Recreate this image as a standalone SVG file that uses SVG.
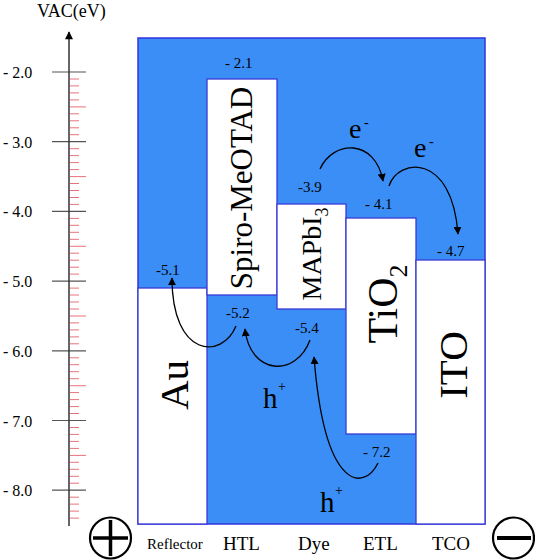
<svg xmlns="http://www.w3.org/2000/svg" width="535" height="560" viewBox="0 0 535 560" font-family="'Liberation Serif', 'Times New Roman', 'DejaVu Serif', serif">
<style>
text, tspan { font-family: 'Liberation Serif', 'Times New Roman', 'DejaVu Serif', serif; fill: #000; }
.lv{font-size:15px}
.ax{font-size:16px}
.big{font-size:41px}
.bot{font-size:19px}
.layer{fill:#fff;stroke:#3a3ad8;stroke-width:1.3}
.arr{fill:none;stroke:#000;stroke-width:1.3;marker-end:url(#ah)}
</style>
<defs>
<marker id="ah" viewBox="0 0 10 10" refX="9" refY="5" markerWidth="8" markerHeight="8" markerUnits="userSpaceOnUse" orient="auto">
<path d="M0,0 L10,5 L0,10 z" fill="#000"/>
</marker>
<marker id="axh" viewBox="0 0 10 10" refX="9" refY="5" markerWidth="9" markerHeight="8" markerUnits="userSpaceOnUse" orient="auto">
<path d="M0,0 L10,5 L0,10 z" fill="#000"/>
</marker>
</defs>
<rect width="535" height="560" fill="#fff"/>

<g id="axis">
<text x="37" y="17" style="font-size:18px">VAC(eV)</text>
<path d="M70 79h9M70 85.9h9M70 92.9h9M70 99.9h9M70 113.8h9M70 120.8h9M70 127.8h9M70 134.7h9M70 148.7h9M70 155.6h9M70 162.6h9M70 169.6h9M70 183.5h9M70 190.5h9M70 197.5h9M70 204.4h9M70 218.4h9M70 225.3h9M70 232.3h9M70 239.3h9M70 253.2h9M70 260.2h9M70 267.2h9M70 274.1h9M70 288.1h9M70 295h9M70 302h9M70 309h9M70 322.9h9M70 329.9h9M70 336.9h9M70 343.8h9M70 357.8h9M70 364.7h9M70 371.7h9M70 378.7h9M70 392.6h9M70 399.6h9M70 406.6h9M70 413.5h9M70 427.5h9M70 434.4h9M70 441.4h9M70 448.4h9M70 462.3h9M70 469.3h9M70 476.3h9M70 483.2h9M70 497.2h9M70 504.1h9M70 511.1h9M70 518.1h9M70 106.9h16M70 176.6h16M70 246.3h16M70 316h16M70 385.7h16M70 455.4h16" stroke="#e8727a" stroke-width="1"/>
<path d="M52 72h34M52 141.7h34M52 211.4h34M52 281.1h34M52 350.8h34M52 420.5h34M52 490.2h34" stroke="#555" stroke-width="1.2"/>
<line x1="69" y1="526" x2="69" y2="32" stroke="#333" stroke-width="1.5" marker-end="url(#axh)"/>
<text class="ax" x="3" y="78">- 2.0</text>
<text class="ax" x="3" y="147.7">- 3.0</text>
<text class="ax" x="3" y="217.4">- 4.0</text>
<text class="ax" x="3" y="287.1">- 5.0</text>
<text class="ax" x="3" y="356.8">- 6.0</text>
<text class="ax" x="3" y="426.5">- 7.0</text>
<text class="ax" x="3" y="496.2">- 8.0</text>
</g>

<g id="background">
<rect x="138" y="38" width="347" height="486" fill="#3a8ef5" stroke="#3333dd" stroke-width="1.5"/>
</g>

<g id="reflector-au">
<rect class="layer" x="138" y="288" width="69" height="236"/>
<text class="big" transform="translate(188,385) rotate(-90)" text-anchor="middle">Au</text>
<text class="lv" x="156" y="275">-5.1</text>
<text x="147" y="549" style="font-size:15px">Reflector</text>
</g>

<g id="htl-spiro">
<rect class="layer" x="207" y="79" width="70" height="216"/>
<text transform="translate(252,188) rotate(-90)" text-anchor="middle" style="font-size:31px">Spiro-MeOTAD</text>
<text class="lv" x="225" y="68">- 2.1</text>
<text class="lv" x="226" y="318">-5.2</text>
<text class="bot" x="223" y="550">HTL</text>
</g>

<g id="dye-mapbi3">
<rect class="layer" x="277" y="204" width="69" height="105"/>
<text transform="translate(321,254) rotate(-90)" text-anchor="middle" style="font-size:28px">MAPbI<tspan dy="7" style="font-size:18px">3</tspan></text>
<text class="lv" x="298" y="192">-3.9</text>
<text class="lv" x="295" y="333">-5.4</text>
<text class="bot" x="298" y="550">Dye</text>
</g>

<g id="etl-tio2">
<rect class="layer" x="346" y="218" width="70" height="216"/>
<text transform="translate(397,304) rotate(-90)" text-anchor="middle" style="font-size:42px">TiO<tspan dy="10" style="font-size:26px">2</tspan></text>
<text class="lv" x="365" y="209">- 4.1</text>
<text class="lv" x="363" y="457">- 7.2</text>
<text class="bot" x="363" y="550">ETL</text>
</g>

<g id="tco-ito">
<rect class="layer" x="416" y="260" width="69" height="264"/>
<text transform="translate(467,365) rotate(-90)" text-anchor="middle" style="font-size:41px">ITO</text>
<text class="lv" x="437" y="256">- 4.7</text>
<text class="bot" x="432" y="550">TCO</text>
</g>

<g id="connectors">
<path class="arr" d="M320,169 C333,140 375,138 383,181"/>
<path class="arr" d="M389,186 C398,158 452,152 458,234"/>
<path class="arr" d="M236,326 C222,360 172,358 172,278"/>
<path class="arr" d="M310,340 C296,378 250,375 245,329"/>
<path class="arr" d="M378,463 C365,490 325,495 314,357"/>
</g>

<g id="carriers">
<text x="349" y="138" style="font-size:28px">e</text>
<text x="364" y="127" style="font-size:14px">-</text>
<text x="414" y="157" style="font-size:28px">e</text>
<text x="429" y="146" style="font-size:14px">-</text>
<text x="263" y="408" style="font-size:29px">h</text>
<text x="278" y="391" style="font-size:14px">+</text>
<text x="320" y="512" style="font-size:29px">h</text>
<text x="335" y="495" style="font-size:14px">+</text>
</g>

<g id="pos-terminal">
<circle cx="110.5" cy="538" r="20.5" fill="none" stroke="#000" stroke-width="2.2"/>
<path d="M93 538h35M110.5 520v36" stroke="#000" stroke-width="3.5"/>
</g>

<g id="neg-terminal">
<circle cx="513.5" cy="538" r="20.5" fill="none" stroke="#000" stroke-width="2.2"/>
<path d="M497 538h34" stroke="#000" stroke-width="4"/>
</g>
</svg>
